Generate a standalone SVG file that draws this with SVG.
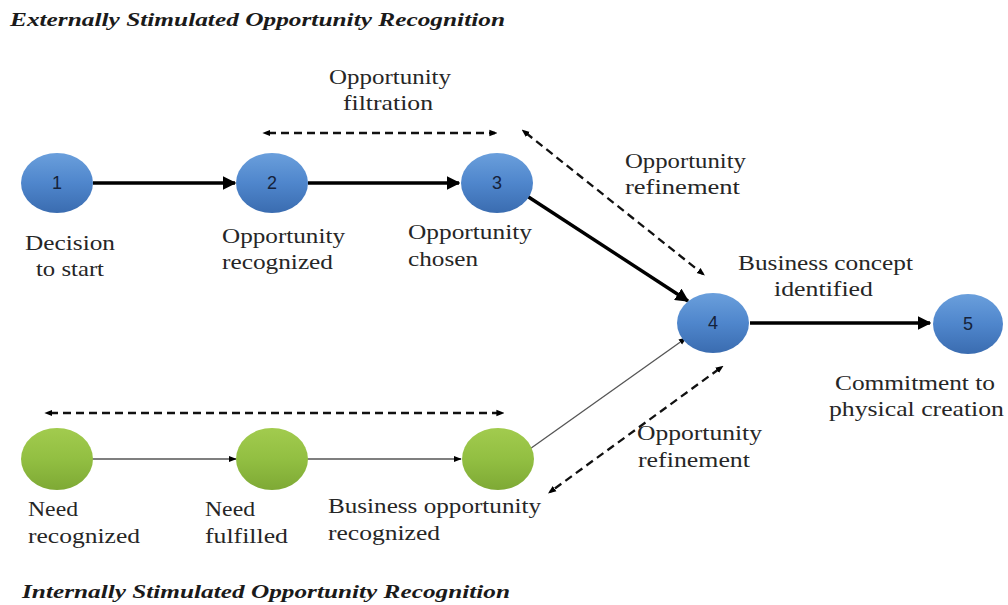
<svg xmlns="http://www.w3.org/2000/svg" width="1008" height="605" viewBox="0 0 1008 605">
<defs>
<style>
text.lbl{font-family:'Liberation Serif','Times New Roman','DejaVu Serif',serif;font-size:22px;fill:#262626;}
text.ttl{font-family:'Liberation Serif','Times New Roman','DejaVu Serif',serif;font-size:19px;font-weight:bold;font-style:italic;fill:#1a1a1a;}
text.num{font-family:'Liberation Sans',Arial,sans-serif;font-size:18px;fill:#15223a;text-anchor:middle;}
.blue{fill:url(#gBlue);}
.green{fill:url(#gGreen);}
.thick{stroke:#000;stroke-width:3.4;fill:none;marker-end:url(#aBig);}
.thin{stroke:#555;stroke-width:1.3;fill:none;marker-end:url(#aSmall);}
.dash{stroke:#111;stroke-width:2.3;stroke-dasharray:8 5;fill:none;marker-start:url(#dS);marker-end:url(#dE);}
</style>
<linearGradient id="gBlue" x1="0" y1="0" x2="0" y2="1">
<stop offset="0" stop-color="#6a9fdc"/>
<stop offset="0.5" stop-color="#4f86cc"/>
<stop offset="1" stop-color="#3a6cb0"/>
</linearGradient>
<linearGradient id="gGreen" x1="0" y1="0" x2="0" y2="1">
<stop offset="0" stop-color="#a2cb4e"/>
<stop offset="0.5" stop-color="#92bf42"/>
<stop offset="1" stop-color="#7ea935"/>
</linearGradient>
<marker id="aBig" viewBox="0 0 10 10" refX="9" refY="5" markerWidth="4" markerHeight="4" orient="auto" markerUnits="strokeWidth">
<path d="M0,0 L10,5 L0,10 z" fill="#000"/>
</marker>
<marker id="aSmall" viewBox="0 0 10 10" refX="9" refY="5" markerWidth="6" markerHeight="6" orient="auto" markerUnits="strokeWidth">
<path d="M0,1 L10,5 L0,9 z" fill="#000"/>
</marker>
<marker id="dE" viewBox="0 0 10 10" refX="7" refY="5" markerWidth="3.5" markerHeight="3.5" orient="auto" markerUnits="strokeWidth">
<path d="M0,1 L10,5 L0,9 z" fill="#000"/>
</marker>
<marker id="dS" viewBox="0 0 10 10" refX="3" refY="5" markerWidth="3.5" markerHeight="3.5" orient="auto-start-reverse" markerUnits="strokeWidth">
<path d="M0,1 L10,5 L0,9 z" fill="#000"/>
</marker>
</defs>
<rect width="1008" height="605" fill="#fff"/>

<text class="ttl" font-family="Liberation Serif, serif" x="10" y="26" textLength="495" lengthAdjust="spacingAndGlyphs">Externally Stimulated Opportunity Recognition</text>
<text class="ttl" font-family="Liberation Serif, serif" x="22" y="598" textLength="488" lengthAdjust="spacingAndGlyphs">Internally Stimulated Opportunity Recognition</text>

<g id="connectors">
<line class="thick" x1="93" y1="183" x2="235" y2="183"/>
<line class="thick" x1="308" y1="183" x2="459" y2="183"/>
<line class="thick" x1="527" y1="196" x2="688" y2="301"/>
<line class="thick" x1="750" y1="323" x2="930" y2="323"/>
<line class="thin" x1="91" y1="459" x2="236" y2="459"/>
<line class="thin" x1="292" y1="459" x2="461" y2="459"/>
<line class="thin" x1="527" y1="451" x2="686" y2="338"/>
<line class="dash" x1="268" y1="133" x2="495" y2="133"/>
<line class="dash" x1="526" y1="133" x2="703" y2="274"/>
<line class="dash" x1="50" y1="413" x2="502" y2="413"/>
<line class="dash" x1="719" y1="369" x2="550" y2="492"/>
</g>

<g id="node1"><ellipse class="blue" cx="57" cy="183" rx="36" ry="30"/><text class="num" x="57" y="189">1</text></g>
<g id="node2"><ellipse class="blue" cx="272" cy="183" rx="36" ry="30"/><text class="num" x="272" y="189">2</text></g>
<g id="node3"><ellipse class="blue" cx="497" cy="183" rx="36" ry="30"/><text class="num" x="497" y="189">3</text></g>
<g id="node4"><ellipse class="blue" cx="713" cy="323" rx="36" ry="30"/><text class="num" x="713" y="329">4</text></g>
<g id="node5"><ellipse class="blue" cx="968" cy="324" rx="35" ry="30"/><text class="num" x="968" y="330">5</text></g>
<g id="nodeA"><ellipse class="green" cx="57" cy="459" rx="36" ry="31"/></g>
<g id="nodeB"><ellipse class="green" cx="272" cy="459" rx="36" ry="31"/></g>
<g id="nodeC"><ellipse class="green" cx="498" cy="459" rx="36" ry="31"/></g>

<g id="labels" font-family="Liberation Serif, serif">
<text class="lbl" x="25" y="250" textLength="90" lengthAdjust="spacingAndGlyphs">Decision</text>
<text class="lbl" x="36" y="276" textLength="68" lengthAdjust="spacingAndGlyphs">to start</text>
<text class="lbl" x="222" y="243" textLength="123" lengthAdjust="spacingAndGlyphs">Opportunity</text>
<text class="lbl" x="222" y="269" textLength="111" lengthAdjust="spacingAndGlyphs">recognized</text>
<text class="lbl" x="408" y="239" textLength="124" lengthAdjust="spacingAndGlyphs">Opportunity</text>
<text class="lbl" x="408" y="266" textLength="70" lengthAdjust="spacingAndGlyphs">chosen</text>
<text class="lbl" x="329" y="84" textLength="122" lengthAdjust="spacingAndGlyphs">Opportunity</text>
<text class="lbl" x="343" y="110" textLength="90" lengthAdjust="spacingAndGlyphs">filtration</text>
<text class="lbl" x="625" y="168" textLength="121" lengthAdjust="spacingAndGlyphs">Opportunity</text>
<text class="lbl" x="625" y="194" textLength="115" lengthAdjust="spacingAndGlyphs">refinement</text>
<text class="lbl" x="738" y="270" textLength="175" lengthAdjust="spacingAndGlyphs">Business concept</text>
<text class="lbl" x="774" y="296" textLength="99" lengthAdjust="spacingAndGlyphs">identified</text>
<text class="lbl" x="835" y="390" textLength="160" lengthAdjust="spacingAndGlyphs">Commitment to</text>
<text class="lbl" x="829" y="416" textLength="175" lengthAdjust="spacingAndGlyphs">physical creation</text>
<text class="lbl" x="637" y="440" textLength="125" lengthAdjust="spacingAndGlyphs">Opportunity</text>
<text class="lbl" x="638" y="467" textLength="112" lengthAdjust="spacingAndGlyphs">refinement</text>
<text class="lbl" x="28" y="516" textLength="50" lengthAdjust="spacingAndGlyphs">Need</text>
<text class="lbl" x="28" y="543" textLength="112" lengthAdjust="spacingAndGlyphs">recognized</text>
<text class="lbl" x="205" y="516" textLength="50" lengthAdjust="spacingAndGlyphs">Need</text>
<text class="lbl" x="205" y="543" textLength="83" lengthAdjust="spacingAndGlyphs">fulfilled</text>
<text class="lbl" x="328" y="513" textLength="213" lengthAdjust="spacingAndGlyphs">Business opportunity</text>
<text class="lbl" x="328" y="540" textLength="112" lengthAdjust="spacingAndGlyphs">recognized</text>
</g>
</svg>
